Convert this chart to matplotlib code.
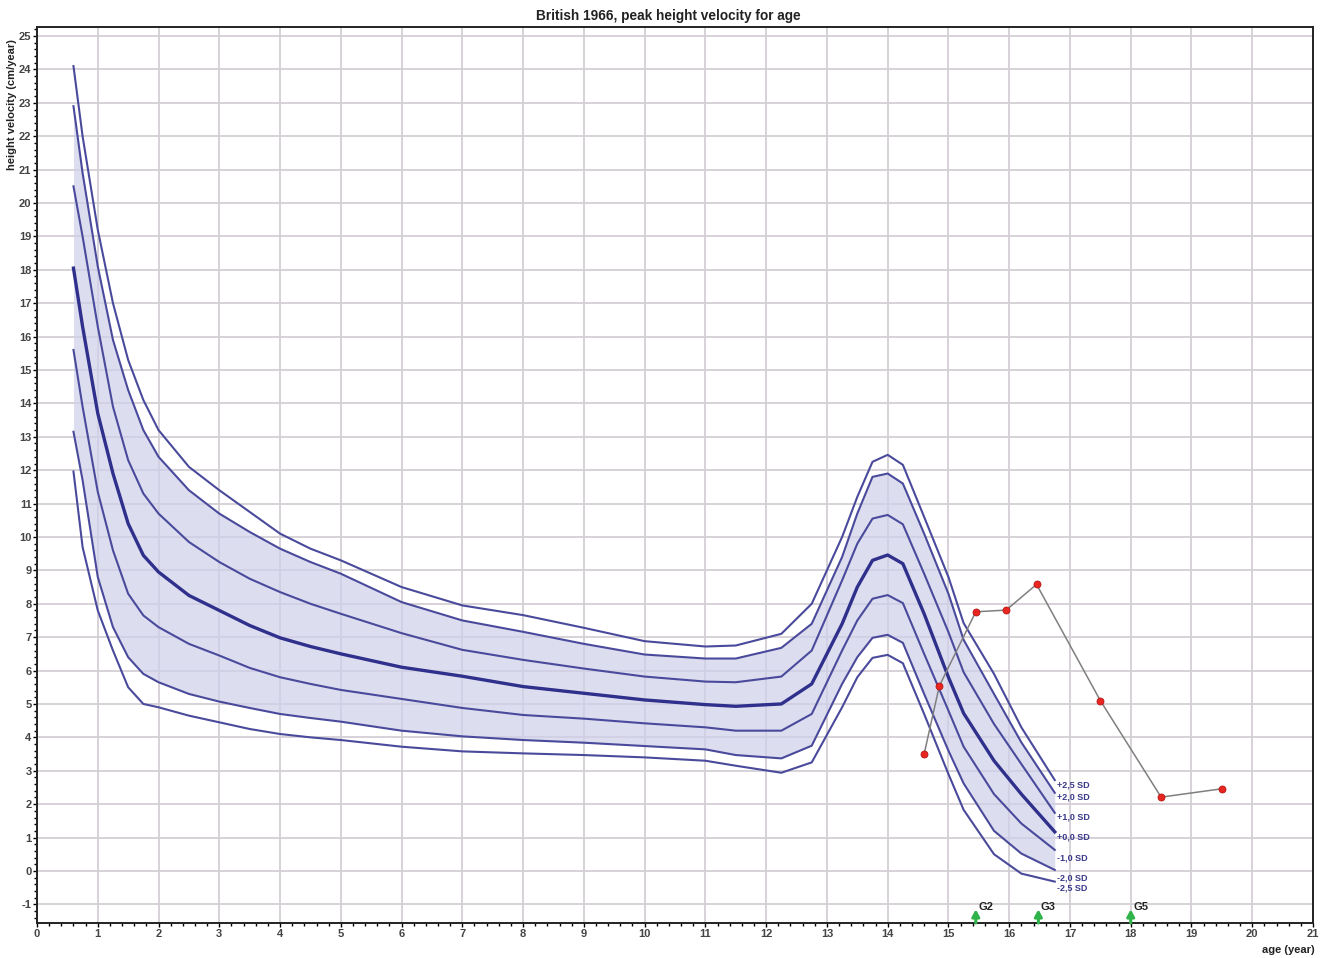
import numpy as np
import matplotlib.pyplot as plt
from matplotlib.ticker import MultipleLocator

plt.rcParams['font.family'] = ['Liberation Sans', 'DejaVu Sans']
plt.rcParams['axes.unicode_minus'] = False

# reference ages (years) shared by all SD curves
ages = [0.6, 0.75, 1.0, 1.25, 1.5, 1.75, 2.0, 2.5, 3.0, 3.5, 4.0, 4.5, 5.0, 6.0, 7.0,
        8.0, 9.0, 10.0, 11.0, 11.5, 12.25, 12.75, 13.25, 13.5, 13.75, 14.0, 14.25,
        14.6, 15.0, 15.25, 15.75, 16.2, 16.75]

sd_p25 = [24.1, 22.0, 19.2, 17.0, 15.3, 14.1, 13.2, 12.1, 11.4, 10.75, 10.1, 9.65, 9.3, 8.5, 7.95,
          7.66, 7.28, 6.88, 6.72, 6.75, 7.1, 8.0, 10.0, 11.2, 12.25, 12.46, 12.16,
          10.6, 8.8, 7.42, 5.9, 4.3, 2.72]
sd_p20 = [22.9, 20.9, 18.1, 15.9, 14.4, 13.2, 12.4, 11.4, 10.7, 10.15, 9.65, 9.25, 8.9, 8.05, 7.5,
          7.16, 6.8, 6.48, 6.36, 6.36, 6.68, 7.4, 9.4, 10.7, 11.8, 11.9, 11.6,
          10.1, 8.3, 6.92, 5.3, 3.85, 2.34]
sd_p10 = [20.5, 19.0, 16.3, 13.9, 12.3, 11.3, 10.7, 9.85, 9.25, 8.75, 8.35, 8.0, 7.7, 7.12, 6.62,
          6.32, 6.06, 5.82, 5.67, 5.65, 5.82, 6.6, 8.7, 9.8, 10.55, 10.66, 10.38,
          8.9, 7.15, 5.95, 4.4, 3.2, 1.74]
sd_0 = [18.05, 16.3, 13.7, 11.9, 10.4, 9.45, 8.95, 8.25, 7.8, 7.35, 6.98, 6.72, 6.5, 6.1, 5.83,
        5.52, 5.32, 5.12, 4.98, 4.93, 5.0, 5.6, 7.4, 8.5, 9.3, 9.46, 9.2,
        7.7, 5.8, 4.72, 3.3, 2.3, 1.17]
sd_m10 = [15.6, 13.9, 11.35, 9.6, 8.3, 7.65, 7.3, 6.8, 6.45, 6.08, 5.8, 5.6, 5.42, 5.15, 4.88,
          4.67, 4.56, 4.42, 4.3, 4.2, 4.2, 4.7, 6.6, 7.5, 8.15, 8.26, 8.02,
          6.5, 4.8, 3.72, 2.3, 1.42, 0.63]
sd_m20 = [13.15, 11.7, 8.8, 7.3, 6.4, 5.9, 5.65, 5.3, 5.07, 4.88, 4.7, 4.58, 4.47, 4.2, 4.03,
          3.92, 3.84, 3.74, 3.64, 3.47, 3.37, 3.75, 5.6, 6.4, 6.98, 7.07, 6.83,
          5.3, 3.6, 2.62, 1.2, 0.52, 0.03]
sd_m25 = [11.96, 9.7, 7.8, 6.6, 5.5, 5.0, 4.9, 4.65, 4.45, 4.25, 4.1, 4.0, 3.92, 3.72, 3.58,
          3.52, 3.47, 3.4, 3.3, 3.15, 2.94, 3.25, 4.9, 5.8, 6.38, 6.47, 6.22,
          4.7, 2.9, 1.83, 0.5, -0.08, -0.32]

sd_labels = ['+2,5 SD', '+2,0 SD', '+1,0 SD', '+0,0 SD', '-1,0 SD', '-2,0 SD', '-2,5 SD']
sd_label_y = [2.57, 2.22, 1.62, 1.02, 0.39, -0.21, -0.51]

# measured velocities
pt_age = [14.6, 14.85, 15.45, 15.95, 16.45, 17.5, 18.5, 19.5]
pt_vel = [3.5, 5.54, 7.76, 7.81, 8.58, 5.1, 2.21, 2.46]

# pubertal stages
stage_age = [15.45, 16.48, 18.0]
stage_name = ['G2', 'G3', 'G5']

line_c = '#4a4a9c'
fig = plt.figure(figsize=(13.22, 9.58), dpi=100)
ax = fig.add_axes([0.028, 0.0365, 0.9652, 0.9353])

ax.fill_between(ages, sd_m20, sd_p20, color='#cfcfea', alpha=0.7, lw=0, zorder=2)
curves = [sd_p25, sd_p20, sd_p10, sd_0, sd_m10, sd_m20, sd_m25]
for i, c in enumerate(curves):
    if i == 3:
        ax.plot(ages, c, color='#2f2f8c', lw=2.4, zorder=3)
    else:
        ax.plot(ages, c, color=line_c, lw=1.5, zorder=3)

for lab, y in zip(sd_labels, sd_label_y):
    ax.text(16.78, y, lab, color='#3a3a8c', fontsize=6.5, fontweight='bold',
            va='center', ha='left', zorder=4)

ax.plot(pt_age, pt_vel, color='#7f7f7f', lw=1.1, zorder=5)
ax.scatter(pt_age, pt_vel, s=26, color='#e8251e', edgecolor='#b01010', lw=0.5, zorder=6)

for a, n in zip(stage_age, stage_name):
    ax.annotate('', xy=(a, -1.15), xytext=(a, -1.56),
                arrowprops=dict(arrowstyle='-|>,head_width=0.22,head_length=0.4',
                                color='#2fb34a', lw=2.2, shrinkA=0, shrinkB=0),
                zorder=6, annotation_clip=False)
    ax.text(a + 0.04, -1.22, n, fontsize=8, fontweight='bold', color='#222222',
            ha='left', va='bottom', zorder=6)

ax.set_xlim(0, 21)
ax.set_ylim(-1.56, 25.27)
ax.xaxis.set_major_locator(MultipleLocator(1))
ax.yaxis.set_major_locator(MultipleLocator(1))
ax.xaxis.set_minor_locator(MultipleLocator(0.2))
ax.yaxis.set_minor_locator(MultipleLocator(0.2))
ax.grid(True, which='major', color='#d3cfd4', lw=1.3, zorder=1)
ax.set_axisbelow(True)
ax.tick_params(which='major', direction='out', length=3, width=1, pad=1,
               labelsize=8, labelcolor='#444444')
ax.tick_params(which='minor', direction='out', length=2, width=1)
for lab in ax.get_xticklabels() + ax.get_yticklabels():
    lab.set_fontweight('bold')
for s in ax.spines.values():
    s.set_linewidth(1.4)
    s.set_color('#222222')

fig.text(668 / 1322, 1 - 16 / 958, 'British 1966, peak height velocity for age',
         ha='center', va='center', fontsize=9.8, fontweight='bold', color='#222222')
fig.text(12 / 1322, 1 - 105 / 958, 'height velocity (cm/year)', rotation=90,
         ha='center', va='center', fontsize=8, fontweight='bold', color='#222222')
fig.text(1288 / 1322, 1 - 950 / 958, 'age (year)', ha='center', va='center',
         fontsize=8, fontweight='bold', color='#222222')

fig.savefig('out.png', dpi=100)
